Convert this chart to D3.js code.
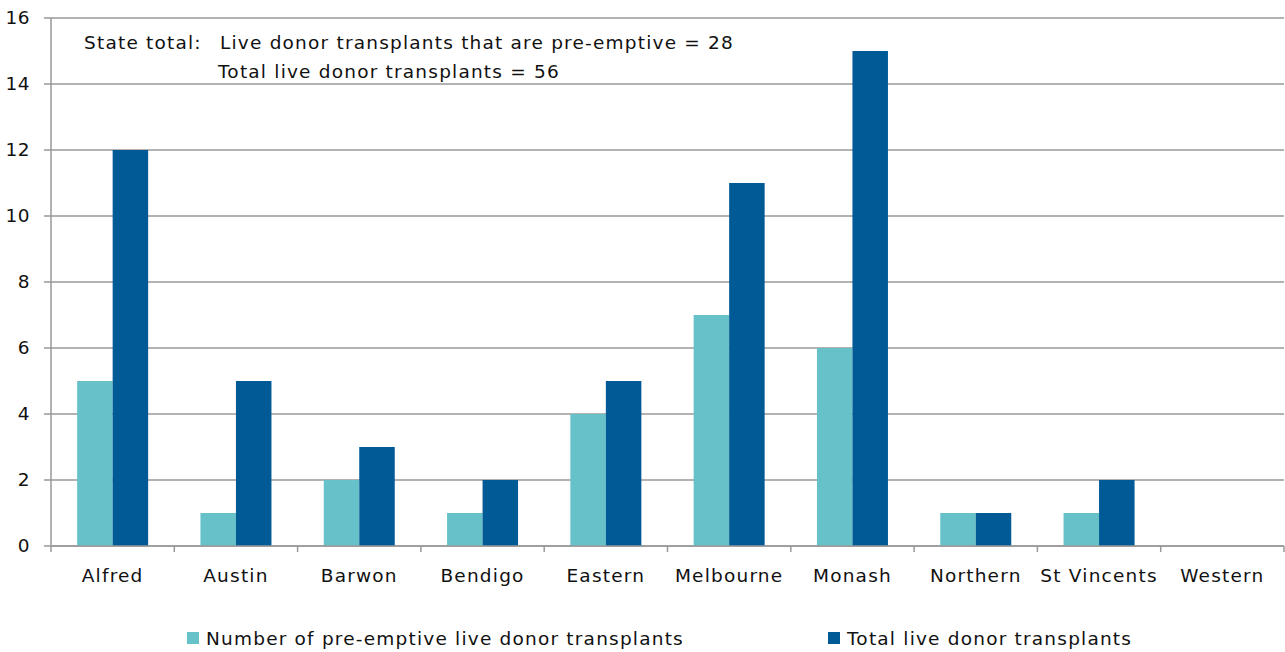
<!DOCTYPE html>
<html>
<head>
<meta charset="utf-8">
<script src="https://cdn.jsdelivr.net/npm/d3@7"></script>
<style>
  body { margin: 0; background: #fff; }
  text { font-family: "DejaVu Sans", sans-serif; fill: #111; font-size: 18.5px; letter-spacing: 1.2px; }
</style>
</head>
<body>
<div id="chart-area"></div>
<script>
var hospitals = ["Alfred", "Austin", "Barwon", "Bendigo", "Eastern", "Melbourne", "Monash", "Northern", "St Vincents", "Western"];
var preEmptive = [5, 1, 2, 1, 4, 7, 6, 1, 1, 0];
var totalLive = [12, 5, 3, 2, 5, 11, 15, 1, 2, 0];
var seriesNames = ["Number of pre-emptive live donor transplants", "Total live donor transplants"];
var seriesColors = ["#66c2c8", "#005a96"];
var yTicks = [0, 2, 4, 6, 8, 10, 12, 14, 16];

var width = 1285, height = 652;
var margin = {left: 51, right: 1, top: 18, bottom: 106};

var svg = d3.select("#chart-area").append("svg")
    .attr("width", width)
    .attr("height", height);

var x = d3.scaleBand()
    .domain(hospitals)
    .range([margin.left, width - margin.right]);

var x1 = d3.scaleBand()
    .domain([0, 1])
    .range([0, 71]);

var y = d3.scaleLinear()
    .domain([0, 16])
    .range([height - margin.bottom, margin.top]);

// gridlines
svg.append("g").selectAll("line")
    .data(yTicks)
    .enter().append("line")
    .attr("x1", margin.left - 7)
    .attr("x2", width - margin.right)
    .attr("y1", (d) => y(d))
    .attr("y2", (d) => y(d))
    .attr("stroke", "#999")
    .attr("stroke-width", 1.5);

// y labels
svg.append("g").selectAll("text")
    .data(yTicks)
    .enter().append("text")
    .attr("x", 30)
    .attr("y", (d) => y(d) + 6)
    .attr("text-anchor", "end")
    .style("letter-spacing", "0.5px")
    .text((d) => d);

// bars
var data = hospitals.map((h, i) => ({name: h, values: [preEmptive[i], totalLive[i]]}));

var groups = svg.append("g").selectAll("g")
    .data(data)
    .enter().append("g")
    .attr("transform", (d) => "translate(" + (x(d.name) + x.bandwidth() / 2 - 35.5) + ",0)");

groups.selectAll("rect")
    .data((d) => d.values.map((v, k) => ({k: k, v: v})))
    .enter().append("rect")
    .attr("x", (d) => x1(d.k))
    .attr("width", x1.bandwidth())
    .attr("y", (d) => y(d.v))
    .attr("height", (d) => y(0) - y(d.v))
    .attr("fill", (d) => seriesColors[d.k]);

// axes lines
svg.append("line")
    .attr("x1", margin.left).attr("x2", margin.left)
    .attr("y1", y(16)).attr("y2", y(0))
    .attr("stroke", "#999").attr("stroke-width", 1.5);

svg.append("line")
    .attr("x1", margin.left).attr("x2", width - margin.right)
    .attr("y1", y(0)).attr("y2", y(0))
    .attr("stroke", "#999").attr("stroke-width", 1.5);

// category ticks
var tickPos = hospitals.map((h) => x(h)).concat([width - margin.right]);
svg.append("g").selectAll("line")
    .data(tickPos)
    .enter().append("line")
    .attr("x1", (d) => d).attr("x2", (d) => d)
    .attr("y1", y(0)).attr("y2", y(0) + 6)
    .attr("stroke", "#999").attr("stroke-width", 1.5);

svg.append("g").selectAll("text")
    .data(hospitals)
    .enter().append("text")
    .attr("x", (d) => x(d) + x.bandwidth() / 2)
    .attr("y", 582)
    .attr("text-anchor", "middle")
    .text((d) => d);

// annotation
svg.append("text").attr("x", 84).attr("y", 49).text("State total:");
svg.append("text").attr("x", 220).attr("y", 49).text("Live donor transplants that are pre-emptive = 28");
svg.append("text").attr("x", 218).attr("y", 78).text("Total live donor transplants = 56");

// legend
var legendX = [187, 828];
var legend = svg.append("g").selectAll("g")
    .data(seriesNames)
    .enter().append("g")
    .attr("transform", (d, i) => "translate(" + legendX[i] + ",632)");

legend.append("rect")
    .attr("width", 12).attr("height", 12)
    .attr("fill", (d, i) => seriesColors[i]);

legend.append("text")
    .attr("x", 19).attr("y", 13)
    .text((d) => d);
</script>
</body>
</html>
